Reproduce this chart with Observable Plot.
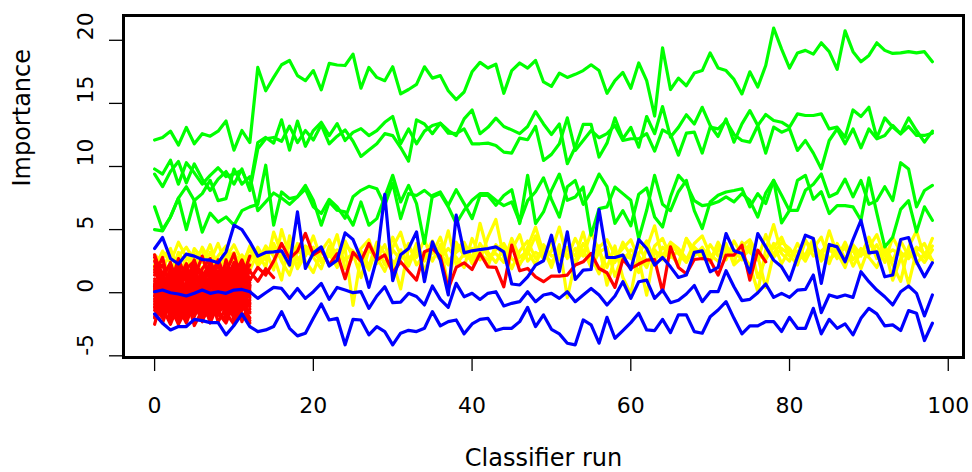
<!DOCTYPE html>
<html>
<head>
<meta charset="utf-8">
<script src="https://cdn.jsdelivr.net/npm/d3@7"></script>
<script src="https://cdn.jsdelivr.net/npm/@observablehq/plot@0.6"></script>
<style>
  html, body { margin: 0; padding: 0; background: #fff; }
  #chart { width: 972px; height: 472px; }
</style>
</head>
<body>
<div id="chart"></div>
<script>
// ---------- data ----------
const xTicks = [0, 20, 40, 60, 80, 100];
const xTickLabels = ["0", "20", "40", "60", "80", "100"];
const yTicks = [-5, 0, 5, 10, 15, 20];
const yTickLabels = ["-5", "0", "5", "10", "15", "20"];
const xTitle = "Classifier run";
const yTitle = "Importance";

// Confirmed attributes (green)
const green1 = [12.1,12.3,12.8,11.7,13.1,11.8,12.6,12.4,12.8,13.6,11.3,12.85,11.9,
  17.85,16.0,17.06,18.06,18.4,17.2,16.8,17.6,16.07,18.17,18.04,18.0,18.9,16.2,17.85,17.06,16.8,17.9,
  15.75,16.1,16.5,17.9,17.0,17.2,16.0,15.3,15.9,17.5,18.25,17.8,18.1,15.8,17.6,18.2,17.8,18.4,16.7,16.35,17.4,17.06,17.3,17.6,18.06,17.6,15.8,16.8,17.45,16.2,18.2,16.8,14.0,19.4,16.1,
  17.0,16.4,17.4,17.6,19.0,17.8,17.6,16.9,15.75,17.5,16.3,18.0,20.96,19.3,17.8,19.0,19.2,18.9,19.8,19.1,17.7,20.75,19.1,18.3,18.8,19.8,19.2,18.96,19.0,19.1,19.0,19.1,18.3];
const green2 = [9.8,9.4,10.5,8.6,10.3,9.5,8.6,9.3,9.9,9.2,9.4,9.7,8.3,11.9,12.3,11.85,13.7,11.3,13.6,11.6,12.85,13.5,12.45,13.4,12.06,12.7,13.0,12.45,12.85,13.5,13.96,
  11.8,12.98,11.8,12.8,13.25,13.43,12.85,12.45,13.77,14.48,12.6,13.1,13.83,13.17,12.9,12.6,13.17,14.35,13.37,12.54,13.37,10.22,11.53,13.33,13.33,10.75,11.85,13.85,12.2,13.1,11.53,13.96,12.6,14.75,12.33,13.1,14.1,13.37,
  14.69,13.25,12.38,13.77,11.93,13.38,14.43,13.25,14.12,13.64,13.51,13.12,14.17,14.04,14.04,14.17,12.98,13.12,12.32,14.48,13.96,14.69,12.27,13.85,13.12,12.59,13.85,12.85,11.93,12.8];
const green3 = [9.4,8.4,9.6,10.4,8.7,10.2,9.0,8.1,9.0,9.6,8.6,9.8,8.1,11.4,12.2,12.3,12.0,13.2,11.9,12.85,12.1,13.3,11.8,12.4,12.9,12.0,10.8,11.3,11.8,12.6,12.45,
  11.5,10.43,13.7,13.37,12.6,13.43,12.64,12.6,12.98,11.8,11.8,11.85,11.67,11.14,11.06,12.25,12.12,13.17,10.48,10.96,11.8,13.85,11.27,12.06,12.85,12.28,12.6,13.25,12.06,12.2,12.2,12.6,11.22,12.9,12.54,10.9,12.64,12.72,
  11.06,13.12,12.98,13.59,12.54,12.06,11.93,13.25,11.06,13.12,12.72,12.98,11.27,12.06,11.06,9.82,12.06,12.98,11.8,12.98,11.48,12.98,12.19,12.46,13.25,12.59,13.17,12.46,12.46,12.64];
const green4 = [6.8,5.0,6.0,7.5,8.4,7.3,4.8,6.3,5.6,6.0,5.35,6.5,6.8,
  7.0,10.1,5.35,7.98,7.45,7.6,8.5,7.32,5.35,7.19,6.53,6.4,5.35,7.19,5.35,5.87,7.6,9.3,
  7.19,8.5,7.06,3.9,7.7,7.98,6.93,8.16,7.06,5.87,7.7,7.7,6.93,7.7,8.16,5.48,9.3,5.48,6.4,8.11,9.4,7.32,7.58,8.37,4.56,6.66,6.8,8.37,7.85,7.32,4.29,6.53,9.3,7.0,6.5,8.0,8.9,6.5,
  5.08,7.19,7.72,7.98,8.1,8.24,6.8,7.85,7.06,8.9,7.72,6.5,8.9,9.3,7.4,8.0,6.27,6.9,6.9,6.8,5.74,9.1,6.3,3.63,4.4,6.6,7.3,4.82,6.8,5.74];
const green5 = [5.0,4.9,6.0,7.5,5.0,7.3,7.85,8.9,7.3,7.45,9.8,8.6,9.2,
  6.5,7.2,7.9,7.5,7.0,7.6,8.2,6.8,6.27,7.4,6.8,5.9,7.6,8.11,8.43,8.24,6.93,8.7,
  5.87,7.85,7.7,8.11,7.58,7.85,6.8,5.48,6.53,7.32,7.85,7.85,7.32,6.9,7.19,5.61,7.3,8.0,9.1,7.4,6.0,8.4,8.9,7.0,8.0,9.4,8.4,5.5,6.5,5.3,7.8,8.3,6.0,5.2,7.6,9.3,8.6,7.3,
  6.9,7.0,7.2,7.6,7.19,7.85,7.3,6.0,7.9,8.9,5.53,6.53,6.53,8.11,8.6,9.4,7.6,7.9,9.0,7.6,8.9,7.0,7.3,8.4,7.3,10.3,9.8,6.8,8.1,8.5];

// Tentative attributes (yellow)
const yellow1 = [2.6,2.0,3.1,2.3,1.6,3.5,2.7,1.9,2.9,3.7,2.1,3.0,1.8,
  3.2,2.0,4.8,3.1,2.1,3.9,2.5,1.6,3.3,4.2,2.7,3.5,-1.0,2.9,1.8,3.6,2.2,4.4,
  3.0,2.3,3.9,1.7,3.4,2.6,4.9,2.2,3.1,2.5,5.5,3.2,2.4,3.6,1.9,3.3,4.1,2.7,3.5,2.0,
  3.8,-0.4,2.5,3.9,2.8,1.5,3.2,2.4,4.0,2.9,1.6,3.5,5.3,2.7,3.3,2.1,4.3,2.9,3.6,2.4,
  3.7,2.6,4.1,3.0,2.2,0.1,3.4,5.4,3.1,2.5,3.9,2.8,3.5,4.4,2.6,3.2,2.0,3.8,3.0,4.3,2.7,3.4,2.2,0.9,3.6,4.9,2.8,4.3];
const yellow2 = [1.9,3.3,2.4,4.0,2.8,2.0,3.6,2.5,3.9,2.2,3.0,2.4,3.4,
  2.4,3.7,2.9,1.0,4.5,2.6,3.4,2.8,1.9,3.7,2.3,4.1,2.8,3.3,2.1,4.0,3.1,2.5,
  0.3,3.6,2.8,4.2,2.5,3.8,0.5,4.0,2.9,3.5,2.6,4.4,5.8,2.8,3.7,2.3,3.1,4.5,2.6,3.3,
  5.2,2.7,3.5,2.9,4.8,3.3,2.0,3.7,1.2,-0.1,3.1,4.1,2.5,3.6,3.0,2.3,4.3,3.4,2.7,3.8,
  2.9,3.6,2.4,4.0,3.2,2.6,4.6,2.8,3.5,3.0,2.2,4.1,3.4,2.7,4.9,3.0,2.6,3.5,2.9,4.4,3.1,3.7,2.5,4.1,2.9,3.2,2.4,3.4];
const yellow3 = [3.0,2.4,1.7,2.9,3.6,2.6,1.8,3.2,2.3,2.8,3.8,2.5,2.9,
  2.7,3.4,1.8,5.0,2.9,2.2,3.7,3.2,2.5,2.9,4.6,1.9,2.8,3.5,4.2,2.3,3.0,3.6,
  4.8,2.7,3.3,2.5,3.9,3.1,2.2,3.5,4.0,2.7,3.3,2.1,3.8,2.9,3.4,4.6,2.5,3.2,2.8,4.1,
  2.6,3.4,2.9,4.8,2.4,3.7,0.6,2.8,3.5,4.2,2.7,-0.2,3.4,2.6,3.9,3.1,2.4,3.6,3.0,2.5,
  4.0,2.8,3.4,2.6,3.9,1.2,2.7,3.6,4.4,2.9,3.3,2.5,3.8,3.1,2.3,3.9,2.7,3.4,1.9,3.6,4.6,2.9,3.4,3.0,0.7,3.3,3.9,2.5];
const yellow4 = [2.2,2.8,3.5,1.5,2.6,3.1,2.4,3.8,1.9,2.7,3.2,1.6,2.5,
  3.6,2.6,3.9,2.5,1.4,3.3,2.9,4.5,2.6,3.1,2.0,3.7,3.3,2.4,3.9,2.8,1.7,3.4,
  2.6,3.9,2.2,3.0,4.1,2.7,3.5,2.8,2.0,4.3,3.0,2.6,3.4,3.9,2.7,2.2,3.6,5.2,3.1,2.4,
  3.3,2.8,4.3,3.1,2.7,3.6,4.2,3.0,2.5,3.4,2.9,2.0,3.7,4.3,2.8,3.3,2.6,3.9,4.5,3.0,
  2.5,3.3,2.9,3.7,4.2,3.0,2.6,3.9,2.3,3.4,2.8,4.2,2.9,3.3,3.8,2.7,4.0,2.6,3.5,3.0,3.8,2.4,4.4,3.2,2.7,3.6,3.1,3.7];
const yellow5 = [2.0,2.7,1.4,3.2,2.1,2.9,3.3,2.2,1.6,3.1,2.5,2.0,3.7,
  2.1,2.9,3.5,2.7,3.8,1.9,3.0,3.6,2.4,3.0,3.4,2.6,3.1,1.2,3.4,2.7,3.8,2.0,
  3.4,2.1,3.6,2.9,3.1,4.4,2.5,3.2,3.7,2.3,3.9,2.9,3.1,2.4,4.3,2.8,3.3,2.2,3.8,2.9,
  3.1,3.6,2.3,3.4,2.0,3.2,3.6,1.3,3.0,2.7,3.8,2.4,3.1,2.9,4.0,3.5,2.7,3.1,3.5,2.9,
  3.3,3.9,2.2,2.8,3.4,2.9,0.4,3.1,4.0,3.5,2.6,3.0,4.3,2.5,3.4,2.9,3.6,2.1,3.2,2.8,2.0,3.5,1.0,2.7,3.4,2.3,3.1,2.6];

// Rejected attributes (red): histories stop when the attribute is rejected
const redLong = [2.8,1.5,2.2,0.8,1.9,2.5,1.0,2.4,1.2,2.0,0.6,1.4,1.0,
  2.0,1.4,2.5,3.9,2.7,3.3,4.7,3.0,3.4,2.2,3.1,1.1,3.2,2.5,3.9,2.6,3.0,1.6,
  2.45,1.7,1.0,3.24,3.5,2.9,0.3,2.0,2.37,1.84,3.11,2.05,2.0,0.47,3.77,1.74,1.92,1.26,0.87,1.32,1.32,1.4,2.19,2.45,3.11,1.92,1.58,0.42,2.63,1.92,2.27,2.58,2.63,0.08,3.63,
  2.0,1.5,2.63,2.71,2.58,1.4,2.98,2.98,3.77,1.0,3.37,2.45];
const redMid = [0.5,1.2,-0.3,1.8,0.9,2.2,1.6,0.4,2.6,1.1,2.0,2.3,1.7,0.9,1.9,1.2];
const redShort = [
  [2.1,-0.4,1.3,-1.2,0.8,2.6,-0.9,0.3,1.7,-1.5,0.6,2.2,-0.3],
  [-1.1,0.7,-2.2,0.4,-0.6,-1.8,1.2,-1.3,0.1,-2.0,0.9,-0.7,-1.6],
  [0.6,-1.5,0.2,1.9,-1.0,0.5,-2.1,1.0,-0.8,0.7,-1.2,1.5,0.2],
  [-2.5,-0.2,-1.4,-2.3,0.6,-1.1,-0.3,-2.4,-0.9,0.3,-2.2,-1.0,-2.0],
  [1.4,2.8,0.1,1.0,2.3,-0.2,1.9,2.7,0.4,1.6,3.1,0.8,1.2],
  [-0.5,-1.9,0.8,-0.8,-2.1,0.9,-1.0,0.2,-1.8,-0.4,0.5,-2.3,-0.6],
  [0.2,1.0,-1.1,0.6,1.5,-1.6,0.5,-0.6,1.3,-1.0,-0.2,0.4,1.8],
  [-1.7,-2.4,-0.6,-1.9,-0.3,-2.6,-1.4,-0.2,-2.3,-1.2,-1.8,-0.5,-2.4],
  [3.0,1.1,2.4,0.3,1.7,1.2,2.9,0.9,2.2,0.5,1.4,2.6,1.0],
  [-0.9,0.4,-0.2,-1.4,0.1,-0.6,-1.7,0.8,-0.4,-1.3,0.2,-0.9,0.6],
  [0.9,-0.7,1.6,0.0,-1.3,1.4,0.3,-1.5,0.9,1.8,-0.6,0.1,-1.1],
  [-2.0,-1.2,-2.5,-0.9,-1.7,-0.4,-2.2,-1.0,-1.6,-2.4,-0.8,-1.9,-1.3],
  [1.8,0.3,0.9,2.2,-0.1,1.1,0.7,1.9,-0.5,1.0,2.4,-0.2,0.8],
  [-0.3,-1.0,0.5,-0.5,-1.5,0.0,-0.8,-1.9,0.4,-0.7,-1.4,0.7,-0.4],
  [0.4,1.6,-0.8,1.2,0.3,-1.2,1.5,0.0,-1.1,1.4,0.5,-0.5,1.0],
  [-1.4,-0.3,-1.8,-1.1,-2.4,-0.7,-1.2,-2.1,-0.1,-1.6,-2.5,-1.1,-0.8],
  [2.5,0.7,1.7,-0.4,2.1,0.4,1.3,2.3,0.0,2.6,0.8,1.1,2.9],
  [-0.7,0.8,-1.6,-0.2,0.5,-0.9,0.0,-1.2,1.1,-0.3,-1.6,0.3,-0.9],
  [1.1,-0.1,0.4,1.5,-0.7,2.0,-0.4,0.6,1.0,-0.9,1.7,-0.1,0.5],
  [-1.2,-2.0,-0.4,-1.6,-0.9,-1.9,-0.5,-1.7,-1.3,-0.2,-1.9,-2.1,-1.5],
  [0.0,-0.8,1.1,-0.6,0.7,-0.3,-1.3,1.2,-0.2,0.8,-1.0,0.9,-0.1],
  [1.6,2.2,0.6,2.7,1.0,1.8,0.2,1.4,2.5,0.8,2.0,1.3,2.2],
  [-0.2,-1.4,0.0,-2.0,-0.5,0.3,-1.5,-0.7,0.6,-1.8,-0.3,-1.2,0.1],
  [0.7,0.1,-0.9,0.9,1.9,-0.5,0.9,-0.1,-1.3,0.3,1.2,-1.4,0.4],
  [-1.9,-0.6,-1.1,-2.5,-1.3,-0.8,-2.3,-0.4,-1.5,-2.2,-0.5,-1.7,-2.2],
  [0.3,-0.5,2.0,0.2,-0.8,1.6,0.8,-0.3,1.4,0.0,-0.9,1.9,0.6]
];

// Shadow attributes (blue): max, mean, min
const shadowMax = [3.5,4.37,2.71,2.27,3.06,2.9,2.63,2.58,2.37,3.24,5.35,5.0,4.03,2.9,3.19,3.24,3.32,2.19,6.4,1.92,3.16,3.63,2.11,2.58,4.74,4.21,2.71,0.42,2.71,7.79,0.95,3.0,3.5,4.82,
  0.87,4.03,2.58,-0.18,6.14,3.16,3.32,3.42,3.5,3.63,3.24,0.69,0.61,1.26,2.19,2.53,4.56,1.66,4.82,1.05,1.79,1.84,6.58,2.79,2.79,2.98,1.84,4.21,3.5,2.19,2.79,2.05,1.21,1.4,3.2,
  3.32,1.66,2.0,4.69,3.32,3.11,1.58,4.69,3.63,2.58,2.05,1.0,2.84,4.56,4.29,0.74,3.82,3.63,2.45,4.21,5.74,3.16,3.24,1.26,1.4,4.21,4.37,2.45,1.26,2.37];
const shadowMean = [0.08,0.21,0,-0.1,-0.26,-0.05,0.21,-0.05,0.08,-0.05,0.21,0.26,0.08,-0.45,0,0.42,0.34,-0.45,0.34,-0.45,0.08,0.74,-0.53,0.42,0.21,0,0.08,-1.24,-0.26,0.47,-0.79,-0.75,-0.05,-0.3,
  -0.97,0.53,-0.53,-1.16,0.74,-0.32,-0.05,-0.53,-0.05,0.08,-1.05,-0.84,-0.71,0.08,-0.71,-0.18,-0.05,-0.45,0.08,-0.71,-0.18,0.34,-0.18,-0.97,-0.26,0.87,-0.45,0.87,1.0,-0.45,0.21,-0.79,-0.6,-0.1,0.57,
  -0.71,0.08,0.08,1.74,0.47,-0.63,-0.53,0,0.69,-0.37,-0.05,-0.37,0.21,0.26,1.4,-1.58,-0.18,-0.37,-0.18,-0.37,1.66,0.87,0.21,-0.32,-0.97,0.08,0.53,-0.05,-1.84,-0.18];
const shadowMin = [-1.68,-2.42,-2.95,-2.68,-2.68,-2.11,-2.21,-2.37,-2.37,-3.34,-2.6,-1.68,-2.68,-3.08,-2.95,-2.68,-1.5,-2.82,-3.42,-3.21,-2.03,-0.89,-2.16,-2.03,-4.13,-2.11,-2.16,-3.34,-2.68,-3.08,-4.13,-3.21,-2.98,-3.08,
  -2.82,-1.5,-2.63,-2.29,-2.16,-3.26,-2.47,-2.11,-2.03,-3.0,-2.82,-2.82,-2.29,-1.16,-2.68,-1.76,-2.9,-3.26,-4.0,-4.13,-2.16,-2.55,-4.0,-1.95,-3.61,-3.0,-2.37,-1.63,-2.95,-3.0,-2.11,-3.16,-1.76,-1.76,-3.08,
  -3.21,-1.9,-1.37,-0.71,-2.03,-3.26,-2.63,-2.63,-2.29,-2.29,-3.08,-1.95,-2.82,-2.82,-1.24,-3.26,-2.11,-2.82,-2.47,-3.34,-2.03,-1.24,-1.68,-2.63,-2.55,-3.0,-1.42,-1.63,-3.79,-2.42];

// ---------- build a long table (drawing order: yellow, red, green, blue) ----------
const groups = [];
[yellow1, yellow2, yellow3, yellow4, yellow5].forEach((s, k) => groups.push({id: "yellow" + k, color: "#FFFF00", values: s}));
groups.push({id: "redLong", color: "#FF0000", values: redLong});
groups.push({id: "redMid", color: "#FF0000", values: redMid});
redShort.forEach((s, k) => groups.push({id: "red" + k, color: "#FF0000", values: s}));
[green1, green2, green3, green4, green5].forEach((s, k) => groups.push({id: "green" + k, color: "#00FF00", values: s}));
[shadowMax, shadowMean, shadowMin].forEach((s, k) => groups.push({id: "shadow" + k, color: "#0000FF", values: s}));

const rows = [];
for (const g of groups) g.values.forEach((v, i) => rows.push({run: i, imp: v, id: g.id, color: g.color}));

// R-style 4% padding of the data range
const xExt = [0, d3.max(groups, g => g.values.length - 1)];
const yExt = d3.extent(rows, d => d.imp);
const pad = (e) => { const r = e[1] - e[0]; return [e[0] - 0.04 * r, e[1] + 0.04 * r]; };

const chart = Plot.plot({
  width: 972,
  height: 472,
  marginLeft: 123,
  marginRight: 9,
  marginTop: 15,
  marginBottom: 115,
  style: {fontFamily: "DejaVu Sans", background: "#fff", color: "#000", overflow: "visible"},
  x: {domain: pad(xExt)},
  y: {domain: pad(yExt)},
  color: {type: "identity"},
  marks: [
    Plot.line(rows, {x: "run", y: "imp", z: "id", stroke: "color", strokeWidth: 3.2,
      strokeLinejoin: "round", strokeLinecap: "round"}),
    Plot.frame({stroke: "#000", strokeWidth: 3}),
    Plot.axisX({ticks: xTicks, tickSize: 14, tickFormat: () => "", strokeWidth: 1.3, label: null}),
    Plot.axisY({ticks: yTicks, tickSize: 14, tickFormat: () => "", strokeWidth: 1.3, label: null}),
    Plot.text(xTicks, {x: d => d, text: (d, i) => xTickLabels[i], frameAnchor: "bottom",
      dy: 48, lineAnchor: "middle", fontSize: 22, fill: "#000"}),
    Plot.text(yTicks, {y: d => d, text: (d, i) => yTickLabels[i], frameAnchor: "left",
      dx: -38, rotate: -90, lineAnchor: "middle", fontSize: 22, fill: "#000"}),
    Plot.text([xTitle], {text: d => d, frameAnchor: "bottom", dy: 101, lineAnchor: "middle", fontSize: 24, fill: "#000"}),
    Plot.text([yTitle], {text: d => d, frameAnchor: "left", dx: -101, rotate: -90, lineAnchor: "middle", fontSize: 24, fill: "#000"})
  ]
});
document.getElementById("chart").appendChild(chart);
</script>
</body>
</html>
